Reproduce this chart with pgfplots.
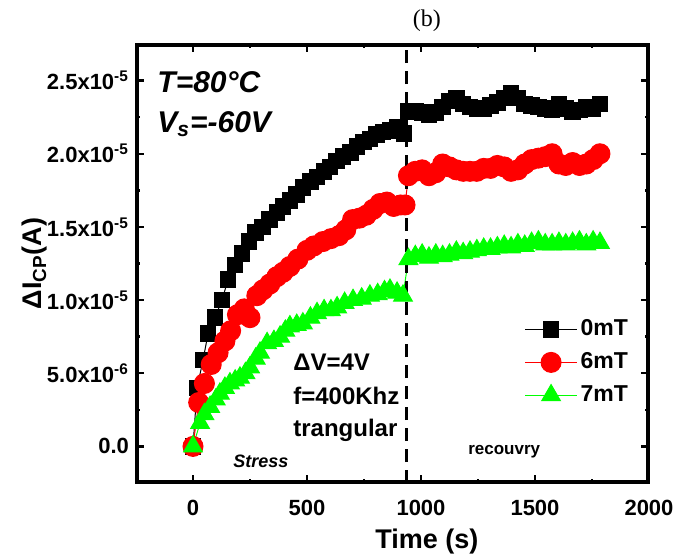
\documentclass[border=0pt]{standalone}
\usepackage{fontspec}
\setmainfont{Liberation Sans}
\newfontfamily\seriffont{Liberation Serif}
\usepackage{pgfplots}
\pgfplotsset{compat=1.18}
\usepackage{pgfplotstable}
\definecolor{pgreen}{RGB}{0,255,0}
\definecolor{pred}{RGB}{255,0,0}
\definecolor{axblack}{RGB}{0,0,0}

% time (s), Delta I_cp (A)
\pgfplotstableread{
t v
0 0
18 4.0e-6
44 5.9e-6
66 7.7e-6
96 8.8e-6
127 1.00e-5
154 1.14e-5
184 1.24e-5
215 1.32e-5
245 1.40e-5
275 1.46e-5
305 1.50e-5
335 1.55e-5
368 1.60e-5
395 1.64e-5
425 1.68e-5
455 1.72e-5
482 1.77e-5
515 1.81e-5
544 1.84e-5
575 1.88e-5
601 1.91e-5
630 1.95e-5
658 1.98e-5
690 2.01e-5
719 2.05e-5
748 2.08e-5
776 2.10e-5
805 2.13e-5
833 2.15e-5
865 2.16e-5
895 2.18e-5
925 2.14e-5
945 2.29e-5
975 2.29e-5
1005 2.28e-5
1035 2.27e-5
1065 2.28e-5
1095 2.32e-5
1125 2.36e-5
1155 2.38e-5
1185 2.34e-5
1215 2.32e-5
1245 2.31e-5
1275 2.31e-5
1305 2.33e-5
1335 2.35e-5
1365 2.38e-5
1395 2.41e-5
1425 2.38e-5
1455 2.34e-5
1485 2.33e-5
1515 2.32e-5
1545 2.31e-5
1575 2.30e-5
1605 2.34e-5
1635 2.31e-5
1665 2.29e-5
1695 2.30e-5
1725 2.32e-5
1755 2.31e-5
1785 2.34e-5
}\zeromT

\pgfplotstableread{
t v
0 0
25 3.0e-6
50 4.3e-6
80 5.6e-6
110 6.4e-6
140 7.2e-6
165 7.9e-6
195 9.0e-6
225 9.4e-6
250 8.8e-6
280 1.03e-5
307 1.07e-5
337 1.11e-5
368 1.16e-5
395 1.19e-5
425 1.23e-5
460 1.28e-5
500 1.34e-5
530 1.37e-5
570 1.40e-5
605 1.42e-5
640 1.44e-5
670 1.48e-5
700 1.55e-5
730 1.56e-5
760 1.58e-5
790 1.62e-5
820 1.66e-5
850 1.67e-5
880 1.64e-5
910 1.65e-5
930 1.65e-5
945 1.85e-5
975 1.88e-5
1005 1.89e-5
1035 1.85e-5
1065 1.87e-5
1095 1.93e-5
1125 1.91e-5
1155 1.89e-5
1185 1.88e-5
1215 1.88e-5
1245 1.88e-5
1275 1.90e-5
1305 1.90e-5
1335 1.92e-5
1365 1.91e-5
1395 1.88e-5
1425 1.89e-5
1455 1.93e-5
1485 1.96e-5
1515 1.97e-5
1545 1.98e-5
1575 2.00e-5
1605 1.93e-5
1635 1.92e-5
1665 1.94e-5
1695 1.92e-5
1725 1.93e-5
1755 1.96e-5
1785 2.00e-5
}\sixmT

\pgfplotstableread{
t v
0 0
31 1.6e-6
50 2.2e-6
75 2.7e-6
100 3.2e-6
118 3.6e-6
140 4.0e-6
162 4.3e-6
185 4.5e-6
206 4.7e-6
230 5.0e-6
250 5.4e-6
275 6.0e-6
294 6.4e-6
325 7.05e-6
355 7.2e-6
382 7.5e-6
405 7.9e-6
425 8.2e-6
455 8.3e-6
482 8.4e-6
515 8.8e-6
544 9.1e-6
575 9.3e-6
605 9.3e-6
632 9.5e-6
665 9.8e-6
702 1.00e-5
740 1.01e-5
776 1.03e-5
810 1.04e-5
840 1.06e-5
864 1.07e-5
895 1.05e-5
921 1.03e-5
945 1.28e-5
975 1.30e-5
1005 1.31e-5
1035 1.29e-5
1065 1.31e-5
1095 1.30e-5
1125 1.31e-5
1155 1.33e-5
1185 1.32e-5
1215 1.33e-5
1245 1.34e-5
1275 1.35e-5
1305 1.35e-5
1335 1.36e-5
1365 1.37e-5
1395 1.36e-5
1425 1.38e-5
1455 1.37e-5
1485 1.39e-5
1515 1.40e-5
1545 1.38e-5
1575 1.38e-5
1605 1.39e-5
1635 1.38e-5
1665 1.39e-5
1695 1.40e-5
1725 1.38e-5
1755 1.40e-5
1785 1.39e-5
}\sevenmT

\begin{document}
\begin{tikzpicture}
\begin{axis}[
  scale only axis, width=256.5pt, height=219.5pt,
  xmin=-250, xmax=2000, ymin=-2.5e-6, ymax=2.75e-5,
  scaled y ticks=false, scaled x ticks=false,
  xtick={0,500,1000,1500,2000},
  xticklabels={0,500,1000,1500,2000},
  ytick={0,5e-6,1e-5,1.5e-5,2e-5,2.5e-5},
  yticklabels={0.0, 5.0x10\textsuperscript{-6}, 1.0x10\textsuperscript{-5},
    1.5x10\textsuperscript{-5}, 2.0x10\textsuperscript{-5}, 2.5x10\textsuperscript{-5}},
  minor x tick num=1, minor y tick num=1,
  tick pos=both, tick align=inside,
  major tick length=4pt, minor tick length=2pt,
  every tick/.style={axblack, line width=1.2pt},
  axis line style={draw=axblack, line width=1.3pt},
  tick label style={font=\bfseries\fontsize{11}{12}\selectfont},
  xticklabel style={yshift=-5pt},
  xlabel={Time (s)},
  ylabel={ΔI\textsubscript{CP}(A)},
  label style={font=\bfseries\fontsize{13.5}{15}\selectfont},
  xlabel style={at={(axis description cs:0.567,-0.133)}, anchor=center},
  ylabel style={at={(axis description cs:-0.197,0.5)}, anchor=center},
  title={(b)},
  title style={at={(axis description cs:0.567,1)}, anchor=center, yshift=5.5pt,
    font=\seriffont\fontsize{12}{13}\selectfont, inner sep=0pt},
  legend style={draw=none, fill=none, at={(axis description cs:0.745,0.275)},
    anchor=west, font=\bfseries\fontsize{11.5}{12}\selectfont,
    nodes={inner sep=1.5pt}, row sep=4pt},
  legend cell align=left,
  legend image code/.code={
    \draw[mark repeat=2, mark phase=2, #1] plot coordinates {(0pt,0pt) (13pt,0pt) (26pt,0pt)};
  },
]
\addplot[black, line width=0.5pt, mark=square*, mark size=3.9pt,
  mark options={solid, fill=black}] table[x=t, y=v] {\zeromT};
\addplot[pred, line width=0.5pt, mark=*, mark size=5pt,
  mark options={solid, fill=pred, draw=pred}] table[x=t, y=v] {\sixmT};
\addplot[pgreen, line width=0.5pt, mark=triangle*, mark size=5.4pt,
  mark options={solid, fill=pgreen, draw=pgreen}] table[x=t, y=v] {\sevenmT};
\legend{0mT, 6mT, 7mT}
\addplot[black, line width=1.5pt, dash pattern=on 6.5pt off 4pt, forget plot]
  coordinates {(937,-2.5e-6) (937,2.75e-5)};
% frame of the plot box (half of the width falls inside the clip)
\addplot[black, line width=2.8pt, solid, forget plot]
  coordinates {(-250,-2.5e-6) (2000,-2.5e-6) (2000,2.75e-5) (-250,2.75e-5) (-250,-2.5e-6)};

\node[anchor=west, font=\bfseries\itshape\fontsize{15}{16}\selectfont, inner sep=0pt]
  at (rel axis cs:0.041,0.913) {T=80°C};
\node[anchor=west, font=\bfseries\itshape\fontsize{15}{16}\selectfont, inner sep=0pt]
  at (rel axis cs:0.041,0.818) {V\textsubscript{s}=-60V};
\node[anchor=base west, font=\bfseries\fontsize{12}{13}\selectfont, inner sep=0pt]
  at (rel axis cs:0.306,0.257) {ΔV=4V};
\node[anchor=base west, font=\bfseries\fontsize{12}{13}\selectfont, inner sep=0pt]
  at (rel axis cs:0.306,0.178) {f=400Khz};
\node[anchor=base west, font=\bfseries\fontsize{12}{13}\selectfont, inner sep=0pt]
  at (rel axis cs:0.306,0.105) {trangular};
\node[anchor=base west, font=\bfseries\itshape\fontsize{9}{10}\selectfont, inner sep=0pt]
  at (rel axis cs:0.189,0.036) {Stress};
\node[anchor=base west, font=\bfseries\fontsize{8.5}{10}\selectfont, inner sep=0pt]
  at (rel axis cs:0.647,0.064) {recouvry};
\end{axis}
\pgfresetboundingbox
\path[use as bounding box] (-68pt,-38pt) rectangle (278.5pt,241.5pt);
\end{tikzpicture}
\end{document}
